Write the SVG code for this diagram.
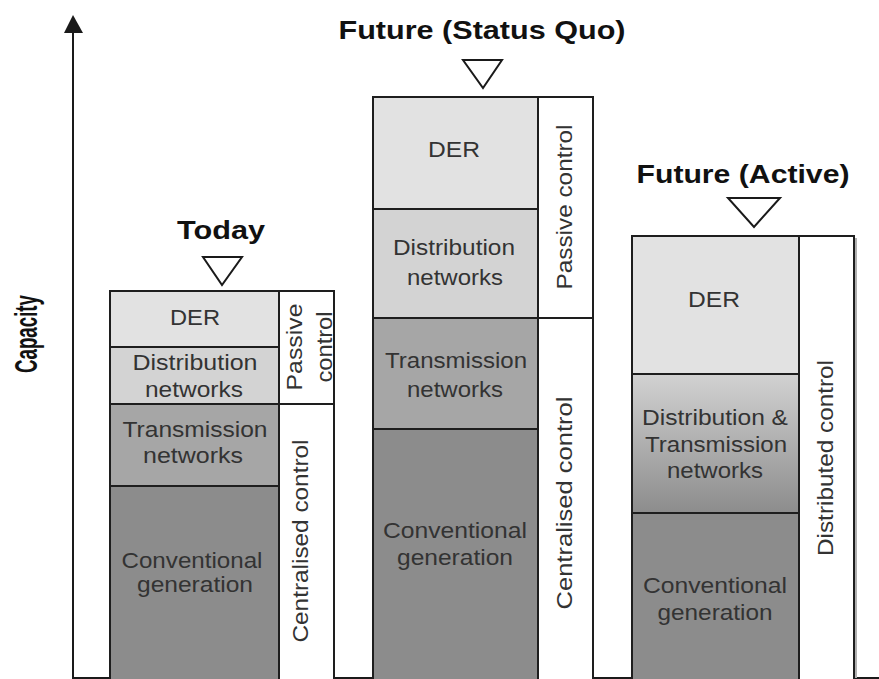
<svg xmlns="http://www.w3.org/2000/svg" width="879" height="679" viewBox="0 0 879 679">
<style>
.box{stroke:#1e1e1e;stroke-width:2}
.ctl{fill:#ffffff;stroke:#1e1e1e;stroke-width:2}
.lbl{font-family:"Liberation Sans",Arial,sans-serif;font-size:22px;fill:#333333;text-anchor:middle}
.ttl{font-family:"Liberation Sans",Arial,sans-serif;font-size:25px;font-weight:bold;fill:#111111;text-anchor:middle}
.cap{font-family:"Liberation Sans",Arial,sans-serif;font-size:23px;font-weight:bold;fill:#111111;text-anchor:middle}
.tri{fill:#ffffff;stroke:#1a1a1a;stroke-width:2;stroke-linejoin:miter}
.axis{stroke:#1a1a1a;stroke-width:2;fill:none}
.der{fill:#e2e2e2}
.dist{fill:#d3d3d3}
.trans{fill:#a6a6a6}
.conv{fill:#8c8c8c}
</style>
<defs>
<linearGradient id="dtg" x1="0" y1="0" x2="0" y2="1">
<stop offset="0" stop-color="#d2d2d2"/>
<stop offset="1" stop-color="#8c8c8c"/>
</linearGradient>
</defs>
<rect x="0" y="0" width="879" height="679" fill="#ffffff"/>

<g id="axes">
<line class="axis" x1="73" y1="30" x2="73" y2="679"/>
<line class="axis" x1="73" y1="678" x2="879" y2="678"/>
<polygon points="73,15 64,33 83,33" fill="#1a1a1a"/>
<text class="cap" transform="translate(37,334) rotate(-90) scale(1,1.4)" textLength="78" lengthAdjust="spacingAndGlyphs">Capacity</text>
</g>

<!-- Today -->
<g id="today-title">
<text class="ttl" x="221" y="239" textLength="88" lengthAdjust="spacingAndGlyphs">Today</text>
<polygon class="tri" points="203,257 242,257 222,285"/>
</g>
<g id="today-der">
<rect class="box der" x="110" y="291" width="169" height="56"/>
<text class="lbl" x="195" y="325" textLength="50" lengthAdjust="spacingAndGlyphs">DER</text>
</g>
<g id="today-dist">
<rect class="box dist" x="110" y="347" width="169" height="57"/>
<text class="lbl" x="195" y="370" textLength="125" lengthAdjust="spacingAndGlyphs">Distribution</text>
<text class="lbl" x="194" y="397" textLength="98" lengthAdjust="spacingAndGlyphs">networks</text>
</g>
<g id="today-trans">
<rect class="box trans" x="110" y="404" width="169" height="82"/>
<text class="lbl" x="195" y="437" textLength="145" lengthAdjust="spacingAndGlyphs">Transmission</text>
<text class="lbl" x="193" y="463" textLength="100" lengthAdjust="spacingAndGlyphs">networks</text>
</g>
<g id="today-conv">
<rect class="box conv" x="110" y="486" width="169" height="194"/>
<text class="lbl" x="192" y="568" textLength="141" lengthAdjust="spacingAndGlyphs">Conventional</text>
<text class="lbl" x="195" y="592" textLength="116" lengthAdjust="spacingAndGlyphs">generation</text>
</g>
<g id="today-passive">
<rect class="ctl" x="279" y="291" width="55" height="113"/>
<text class="lbl" transform="translate(302,347) rotate(-90)" textLength="87" lengthAdjust="spacingAndGlyphs">Passive</text>
<text class="lbl" transform="translate(332,347) rotate(-90)" textLength="71" lengthAdjust="spacingAndGlyphs">control</text>
</g>
<g id="today-central">
<rect class="ctl" x="279" y="404" width="55" height="276"/>
<text class="lbl" transform="translate(308,541) rotate(-90)" textLength="203" lengthAdjust="spacingAndGlyphs">Centralised control</text>
</g>

<!-- Future (Status Quo) -->
<g id="sq-title">
<text class="ttl" x="482" y="39" textLength="287" lengthAdjust="spacingAndGlyphs">Future (Status Quo)</text>
<polygon class="tri" points="463,60 502,60 483,88"/>
</g>
<g id="sq-der">
<rect class="box der" x="373" y="97" width="165" height="112"/>
<text class="lbl" x="454" y="157" textLength="52" lengthAdjust="spacingAndGlyphs">DER</text>
</g>
<g id="sq-dist">
<rect class="box dist" x="373" y="209" width="165" height="109"/>
<text class="lbl" x="454" y="255" textLength="122" lengthAdjust="spacingAndGlyphs">Distribution</text>
<text class="lbl" x="455" y="285" textLength="96" lengthAdjust="spacingAndGlyphs">networks</text>
</g>
<g id="sq-trans">
<rect class="box trans" x="373" y="318" width="165" height="111"/>
<text class="lbl" x="456" y="368" textLength="142" lengthAdjust="spacingAndGlyphs">Transmission</text>
<text class="lbl" x="455" y="397" textLength="96" lengthAdjust="spacingAndGlyphs">networks</text>
</g>
<g id="sq-conv">
<rect class="box conv" x="373" y="429" width="165" height="251"/>
<text class="lbl" x="455" y="538" textLength="144" lengthAdjust="spacingAndGlyphs">Conventional</text>
<text class="lbl" x="455" y="565" textLength="116" lengthAdjust="spacingAndGlyphs">generation</text>
</g>
<g id="sq-passive">
<rect class="ctl" x="538" y="97" width="55" height="221"/>
<text class="lbl" transform="translate(572,207) rotate(-90)" textLength="165" lengthAdjust="spacingAndGlyphs">Passive control</text>
</g>
<g id="sq-central">
<rect class="ctl" x="538" y="318" width="55" height="362"/>
<text class="lbl" transform="translate(572,503) rotate(-90)" textLength="213" lengthAdjust="spacingAndGlyphs">Centralised control</text>
</g>

<!-- Future (Active) -->
<g id="act-title">
<text class="ttl" x="743" y="183" textLength="213" lengthAdjust="spacingAndGlyphs">Future (Active)</text>
<polygon class="tri" points="728,198 780,198 754,227"/>
</g>
<g id="act-der">
<rect class="box der" x="632" y="236" width="167" height="138"/>
<text class="lbl" x="714" y="307" textLength="52" lengthAdjust="spacingAndGlyphs">DER</text>
</g>
<g id="act-dt">
<rect class="box" fill="url(#dtg)" x="632" y="374" width="167" height="139"/>
<text class="lbl" x="715" y="425" textLength="146" lengthAdjust="spacingAndGlyphs">Distribution &amp;</text>
<text class="lbl" x="716" y="452" textLength="142" lengthAdjust="spacingAndGlyphs">Transmission</text>
<text class="lbl" x="715" y="478" textLength="96" lengthAdjust="spacingAndGlyphs">networks</text>
</g>
<g id="act-conv">
<rect class="box conv" x="632" y="513" width="167" height="167"/>
<text class="lbl" x="715" y="593" textLength="144" lengthAdjust="spacingAndGlyphs">Conventional</text>
<text class="lbl" x="715" y="620" textLength="115" lengthAdjust="spacingAndGlyphs">generation</text>
</g>
<g id="act-distributed">
<line x1="856" y1="238" x2="856" y2="678" stroke="#b0b0b0" stroke-width="2"/>
<rect class="ctl" x="799" y="236" width="55" height="444"/>
<text class="lbl" transform="translate(833,458) rotate(-90)" textLength="196" lengthAdjust="spacingAndGlyphs">Distributed control</text>
</g>

<g id="connectors"></g>
</svg>
